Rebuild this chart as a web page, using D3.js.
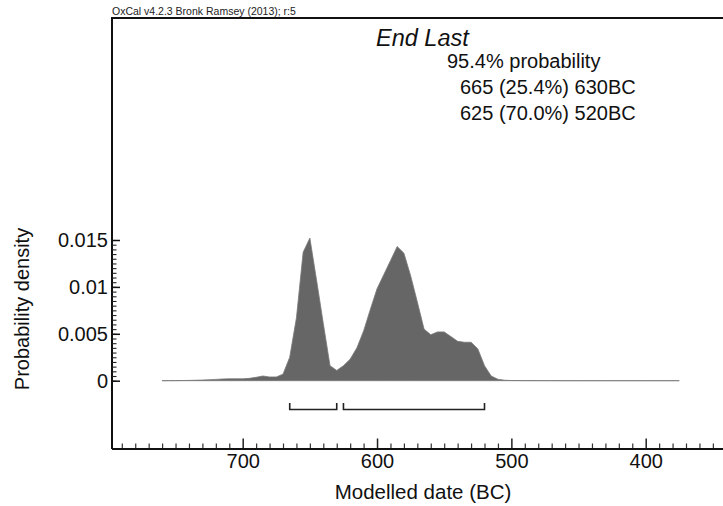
<!DOCTYPE html>
<html>
<head>
<meta charset="utf-8">
<script src="https://cdn.jsdelivr.net/npm/d3@7"></script>
<style>
  body { margin: 0; background: #fff; }
  svg { display: block; font-family: "Liberation Sans", Arial, sans-serif; }
</style>
</head>
<body>
<svg></svg>
<script>
// OxCal style posterior plot for "End Last"

// Calendar years (BC) on a 5 year grid and the probability density
var years = [760, 755, 750, 745, 740, 735, 730, 725, 720, 715, 710, 705, 700, 695, 690,
             685, 680, 675, 670, 665, 660, 655, 650, 645, 640, 635, 630, 625, 620, 615,
             610, 605, 600, 595, 590, 585, 580, 575, 570, 565, 560, 555, 550, 545, 540,
             535, 530, 525, 520, 515, 510, 505, 500, 490, 480, 470, 460, 450, 430, 400, 375]
var density = [0, 0.000005, 0.00001, 0.00002, 0.00003, 0.00005, 0.00007, 0.0001, 0.00014, 0.00018, 0.0002, 0.0002, 0.0002, 0.00025, 0.00036,
               0.0005, 0.0004, 0.0004, 0.0007, 0.0025, 0.0067, 0.0137, 0.0152, 0.0107, 0.0061, 0.0016, 0.0011, 0.0016, 0.0023, 0.0035,
               0.0053, 0.0076, 0.0098, 0.0113, 0.0128, 0.0143, 0.0136, 0.0112, 0.0084, 0.0055, 0.0049, 0.0052, 0.0052, 0.0047, 0.0042,
               0.0041, 0.0041, 0.0034, 0.0016, 0.0005, 0.00015, 0.00005, 0.00002, 0.00001, 0.000008, 0.000005, 0.000003, 0.000002, 0.000001, 0, 0]

// 95.4% highest posterior density ranges (from, to, %)
var rangeFrom = [665, 625]
var rangeTo = [630, 520]
var rangePct = ["25.4%", "70.0%"]

var xMajorTicks = [700, 600, 500, 400]
var yMajorTicks = [0, 0.005, 0.01, 0.015]

var title = "End Last"
var header = "OxCal v4.2.3 Bronk Ramsey (2013); r:5"

var canvasSize = {width: 723, height: 506}
var frame = {left: 112, top: 18, right: 723, bottom: 449}

var svg = d3.select("svg")
    .attr("width", canvasSize.width)
    .attr("height", canvasSize.height)

var x = d3.scaleLinear()
    .domain([700, 400])
    .range([242.7, 645.7])

var y = d3.scaleLinear()
    .domain([0, 0.015])
    .range([380.7, 240])

var data = years.map((yr, i) => ({year: yr, p: density[i]}))

// distribution
var area = d3.area()
    .x(d => x(d.year))
    .y0(y(0))
    .y1(d => y(d.p))

svg.append("path")
    .datum(data)
    .attr("d", area)
    .attr("fill", "#666")
    .attr("stroke", "#777")
    .attr("stroke-width", 0.8)

// range brackets
var brackets = svg.append("g")
    .attr("stroke", "#222")
    .attr("stroke-width", 1.6)
    .attr("fill", "none")
rangeFrom.forEach((f, i) => {
    var x0 = x(f), x1 = x(rangeTo[i])
    brackets.append("path")
        .attr("d", `M${x0},403 V409.5 H${x1} V403`)
})

// frame (left + top)
svg.append("path")
    .attr("d", `M${frame.right},${frame.top} H${frame.left} V${frame.bottom}`)
    .attr("fill", "none")
    .attr("stroke", "#111")
    .attr("stroke-width", 2)

// bottom axis: minor ticks every 10 years, major every 100 (separate groups so one call doesn't wipe the other)
var xMinor = d3.range(790, 340, -10).filter(v => v % 100 !== 0)
var xMinorG = svg.append("g").attr("transform", `translate(0,${frame.bottom})`)
    .call(d3.axisBottom(x).tickValues(xMinor).tickSize(-5.5).tickFormat(""))
var xAxisG = svg.append("g").attr("transform", `translate(0,${frame.bottom})`)
    .call(d3.axisBottom(x).tickValues(xMajorTicks).tickSize(-10.5).tickPadding(5).tickFormat(d3.format("d")))
svg.selectAll(".domain").remove()
xMinorG.selectAll("line").attr("stroke", "#333").attr("stroke-width", 1.2)
xAxisG.selectAll("line").attr("stroke", "#222").attr("stroke-width", 1.5)
xAxisG.selectAll("text")
    .attr("font-size", 20)
    .attr("fill", "#111")
    .attr("font-family", "Liberation Sans, Arial, sans-serif")
svg.append("line")
    .attr("x1", frame.left).attr("x2", frame.right)
    .attr("y1", frame.bottom).attr("y2", frame.bottom)
    .attr("stroke", "#111").attr("stroke-width", 2)

// left axis: minor ticks every 0.0005
var yMinor = d3.range(0, 0.01501, 0.0005)
var yMinorG = svg.append("g").attr("transform", `translate(${frame.left},0)`)
    .call(d3.axisLeft(y).tickValues(yMinor).tickSize(-4.5).tickFormat(""))
var yAxisG = svg.append("g").attr("transform", `translate(${frame.left},0)`)
    .call(d3.axisLeft(y).tickValues(yMajorTicks).tickSize(-8).tickPadding(4)
        .tickFormat(d => d === 0 ? "0" : String(+d.toFixed(3))))
svg.selectAll(".domain").remove()
yMinorG.selectAll("line").attr("stroke", "#222").attr("stroke-width", 1.1)
yAxisG.selectAll("line").attr("stroke", "#111").attr("stroke-width", 1.5)
yAxisG.selectAll("text")
    .attr("font-size", 20)
    .attr("fill", "#111")
    .attr("font-family", "Liberation Sans, Arial, sans-serif")

// axis titles
svg.append("text")
    .attr("x", 423)
    .attr("y", 499)
    .attr("text-anchor", "middle")
    .attr("font-size", 20.5)
    .attr("fill", "#111")
    .text("Modelled date (BC)")

svg.append("text")
    .attr("transform", "translate(29,309) rotate(-90)")
    .attr("text-anchor", "middle")
    .attr("font-size", 20)
    .attr("fill", "#111")
    .text("Probability density")

// header
svg.append("text")
    .attr("x", 112)
    .attr("y", 15)
    .attr("font-size", 10.5)
    .attr("fill", "#222")
    .text(header)

// title and ranges
svg.append("text")
    .attr("x", 376)
    .attr("y", 46)
    .attr("font-size", 23.5)
    .attr("font-style", "italic")
    .attr("fill", "#111")
    .text(title)

svg.append("text")
    .attr("x", 447)
    .attr("y", 68)
    .attr("font-size", 20)
    .attr("fill", "#111")
    .text("95.4% probability")

rangeFrom.forEach((f, i) => {
    svg.append("text")
        .attr("x", 460)
        .attr("y", 94 + i * 26)
        .attr("font-size", 20)
        .attr("fill", "#111")
        .text(`${f} (${rangePct[i]}) ${rangeTo[i]}BC`)
})
</script>
</body>
</html>
